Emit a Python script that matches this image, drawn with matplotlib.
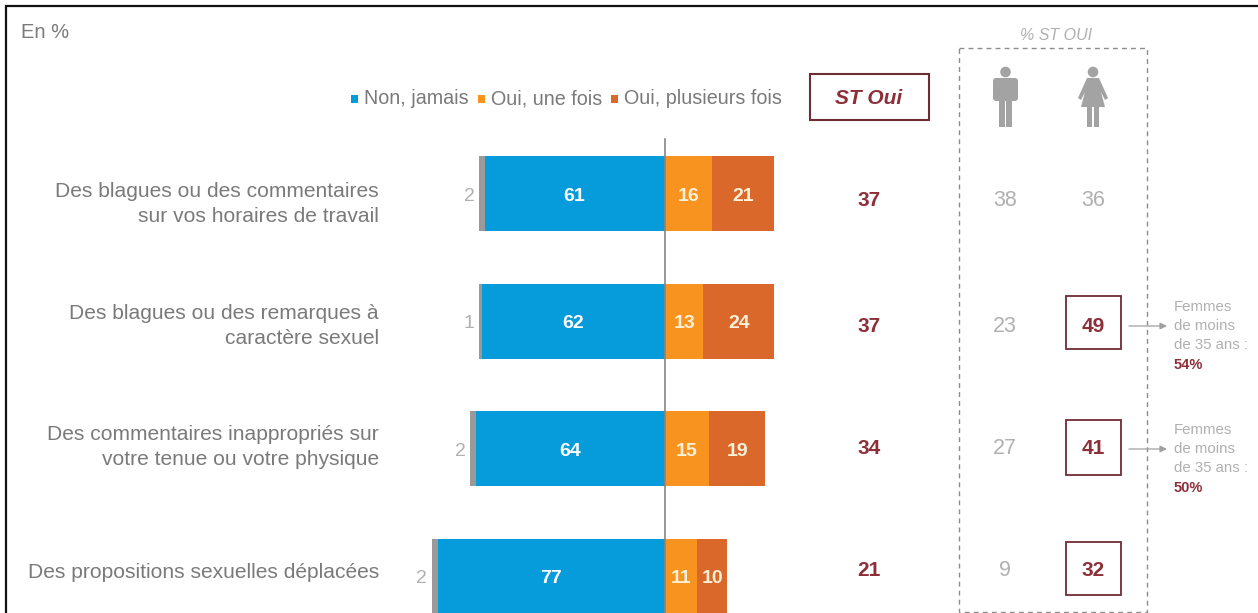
import matplotlib
matplotlib.use("Agg")
import matplotlib.pyplot as plt
from matplotlib.patches import Circle, FancyBboxPatch, Polygon, Rectangle

plt.rcParams["font.family"] = ["Liberation Sans", "DejaVu Sans"]

# Values
labels = [
    "Des blagues ou des commentaires\nsur vos horaires de travail",
    "Des blagues ou des remarques à\ncaractère sexuel",
    "Des commentaires inappropriés sur\nvotre tenue ou votre physique",
    "Des propositions sexuelles déplacées",
]
nsp = [2, 1, 2, 2]
non_jamais = [61, 62, 64, 77]
oui_une_fois = [16, 13, 15, 11]
oui_plusieurs = [21, 24, 19, 10]
st_oui = [37, 37, 34, 21]
st_hommes = [38, 23, 27, 9]
st_femmes = [36, 49, 41, 32]
femmes_boxed = [False, True, True, True]
moins_35 = [None, "54%", "50%", None]
legend_labels = ["Non, jamais", "Oui, une fois", "Oui, plusieurs fois"]

BLUE = "#069bdb"
ORANGE = "#f7931e"
RUST = "#d9682a"
GREY_BAR = "#9a9a9a"
TEXT = "#7a7a7a"
LIGHT = "#b0b0b0"
WINE = "#8c2f39"
BOX = "#6e2c33"

W, H = 1258, 613
PX_PER_UNIT = 2.95
ZERO_X = 665
ROW0_Y = 193.5
ROW_STEP = 127.5

# rows of the side columns do not sit quite level with the bars
label_y = [204, 326, 447, 573]
value_y = [201, 326, 449, 571]
box_y = [None, (296, 349), (420, 475), (542, 595)]

fig = plt.figure(figsize=(W / 100, H / 100), dpi=100, facecolor="white")

# bars: value axis on x, row index on y, lined up with the picture
ax = fig.add_axes([0, 0, 1, 1])
ax.set_xlim(-ZERO_X / PX_PER_UNIT, (W - ZERO_X) / PX_PER_UNIT)
ax.set_ylim((H - ROW0_Y) / ROW_STEP, -ROW0_Y / ROW_STEP)
ax.axis("off")

rows = range(len(labels))
bar_h = 75 / ROW_STEP
lefts = [-v for v in non_jamais]
ax.barh(rows, lefts, height=bar_h, color=BLUE)
ax.barh(rows, [-v for v in nsp], left=lefts, height=bar_h, color=GREY_BAR)
ax.barh(rows, oui_une_fois, height=bar_h, color=ORANGE)
ax.barh(rows, oui_plusieurs, left=oui_une_fois, height=bar_h, color=RUST)
ax.axvline(0, ymin=0, ymax=1 - 139 / H, color="#858585", lw=1.2, zorder=5)

for i in rows:
    y = i + 0.02
    ax.text(-non_jamais[i] / 2 - 0.3, y, str(non_jamais[i]), color="white", weight="bold",
            fontsize=14, ha="center", va="center", zorder=6)
    ax.text(oui_une_fois[i] / 2, y, str(oui_une_fois[i]), color="#fff0d8", weight="bold",
            fontsize=14, ha="center", va="center", zorder=6)
    ax.text(oui_une_fois[i] + oui_plusieurs[i] / 2, y, str(oui_plusieurs[i]), color="#fff0d8",
            weight="bold", fontsize=14, ha="center", va="center", zorder=6)
    ax.text(-non_jamais[i] - nsp[i] - 1.6, y, str(nsp[i]), color=LIGHT, fontsize=14,
            ha="right", va="center")

# everything around the bars is placed in pixels
ov = fig.add_axes([0, 0, 1, 1], facecolor="none")
ov.set_xlim(0, W)
ov.set_ylim(H, 0)
ov.axis("off")

# frame cut by the crop
ov.plot([5.5, 5.5, W], [H, 6, 6], color="#111111", lw=1.6, solid_joinstyle="miter")

ov.text(21, 32, "En %", color=TEXT, fontsize=14.5, ha="left", va="center")

for i in rows:
    ov.text(379, label_y[i], labels[i], color=TEXT, fontsize=15.1, ha="right",
            va="center", linespacing=1.42, multialignment="right")
    ov.text(869, value_y[i], str(st_oui[i]), color=WINE, weight="bold", fontsize=15,
            ha="center", va="center")
    ov.text(1005, value_y[i], str(st_hommes[i]), color=LIGHT, fontsize=15.5, ha="center", va="center")
    ov.text(1093, value_y[i], str(st_femmes[i]), weight="bold" if femmes_boxed[i] else "normal",
            color=WINE if femmes_boxed[i] else LIGHT, fontsize=15.5 if not femmes_boxed[i] else 15,
            ha="center", va="center")
    if femmes_boxed[i]:
        top, bottom = box_y[i]
        ov.add_patch(Rectangle((1066, top), 55, bottom - top, fill=False, ec=BOX, lw=1.3))
    if moins_35[i]:
        ov.text(1174, value_y[i], "Femmes\nde moins\nde 35 ans :", color=LIGHT, fontsize=10.8,
                ha="left", va="center", linespacing=1.42)
        ov.text(1174, value_y[i] + 39, moins_35[i], color=WINE, weight="bold",
                fontsize=10.5, ha="left", va="center")
        ov.annotate("", xy=(1167, value_y[i]), xytext=(1129, value_y[i]),
                    arrowprops=dict(arrowstyle="-|>", color="#a0a0a0", lw=0.9, mutation_scale=10,
                                    shrinkA=0, shrinkB=0))

# legend, hand placed to follow the original strip
legend_x = [351, 478, 611]
legend_cols = [BLUE, ORANGE, RUST]
for x, c, t in zip(legend_x, legend_cols, legend_labels):
    ov.add_patch(Rectangle((x, 95), 7, 8, color=c, lw=0))
    ov.text(x + 13, 99, t, color=TEXT, fontsize=14.2, ha="left", va="center")

# ST Oui header
ov.add_patch(Rectangle((810, 74), 119, 46, fill=False, ec=BOX, lw=1.5))
ov.text(869, 98, "ST Oui", color=WINE, weight="bold", style="italic", fontsize=15,
        ha="center", va="center")

# gender panel
ov.add_patch(Rectangle((958.5, 48), 188.5, 564, fill=False, ec="#8c8c8c", lw=1, ls=(0, (3.5, 3))))
ov.text(1056, 35, "% ST OUI", color=LIGHT, style="italic", fontsize=11.5, ha="center", va="center")


def man(cx, col="#a3a3a3"):
    ov.add_patch(Circle((cx, 72), 5.3, color=col, lw=0))
    ov.add_patch(FancyBboxPatch((cx - 12.5, 78), 25, 23, boxstyle="round,pad=0,rounding_size=3",
                                color=col, lw=0))
    ov.add_patch(Rectangle((cx - 6.5, 100), 6, 27, color=col, lw=0))
    ov.add_patch(Rectangle((cx + 0.5, 100), 6, 27, color=col, lw=0))


def woman(cx, col="#a3a3a3"):
    ov.add_patch(Circle((cx, 72), 5.3, color=col, lw=0))
    ov.add_patch(Polygon([(cx - 6, 78), (cx + 6, 78), (cx + 15, 98), (cx + 12, 100), (cx + 8, 92),
                          (cx + 12, 107), (cx - 12, 107), (cx - 8, 92), (cx - 12, 100), (cx - 15, 98)],
                         closed=True, color=col, lw=0))
    ov.add_patch(Rectangle((cx - 6, 106), 5, 21, color=col, lw=0))
    ov.add_patch(Rectangle((cx + 1, 106), 5, 21, color=col, lw=0))


man(1005.5)
woman(1093)

fig.savefig("out.png", dpi=100)
